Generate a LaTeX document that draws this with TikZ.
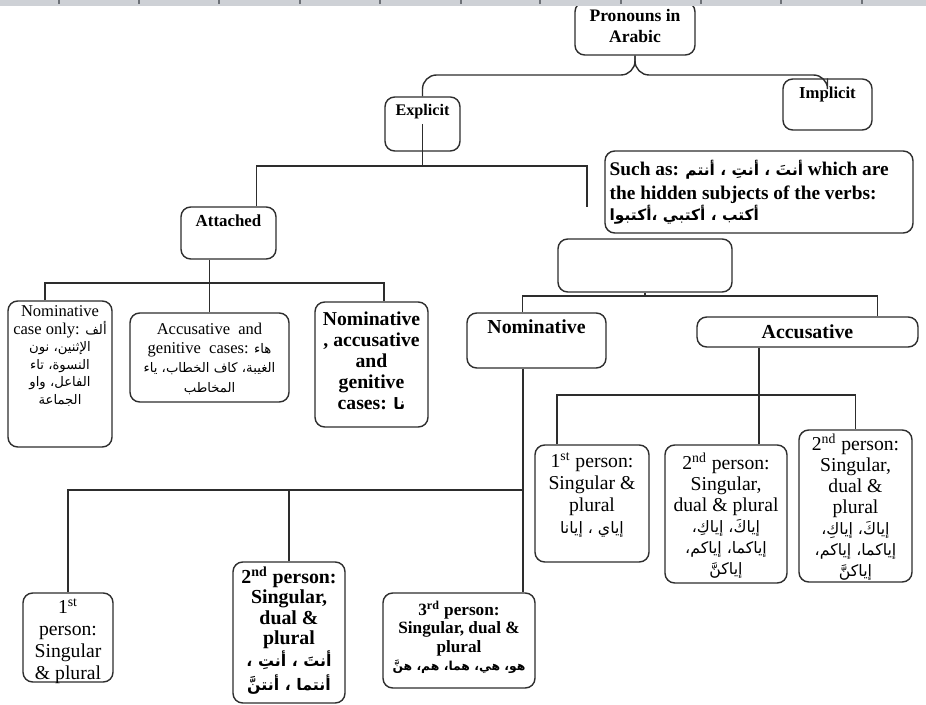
\documentclass[tikz,border=0pt]{standalone}
\usepackage{fontspec}
\setmainfont{Liberation Serif}
\newfontfamily\arabicfont[Script=Arabic,Scale=0.8]{DejaVu Sans}
\TeXXeTstate=1
\newcommand{\arb}[1]{{\arabicfont\beginR #1\endR}}
\usetikzlibrary{positioning}
\definecolor{ruler}{RGB}{206,209,214}
\definecolor{tick}{RGB}{110,114,120}
\definecolor{edge}{RGB}{45,45,45}
\tikzstyle{box}=[draw=edge, line width=0.8pt, rounded corners=5.5pt, inner sep=0pt]
\tikzset{link/.style={draw=edge, line width=0.8pt}}
\tikzset{brace/.style={link, rounded corners=8pt}}
\tikzset{lbl/.style={anchor=north, align=center, inner sep=0pt}}

\begin{document}
\begin{tikzpicture}[x=0.02cm,y=-0.02cm]
  \useasboundingbox (0,0) rectangle (926,705);

  \node[box, minimum width=2.4cm, minimum height=1.06cm] (Root) at (635,28.5) {};
  \node[box, minimum width=1.78cm, minimum height=1.02cm] (Impl) at (827.5,104.5) {};
  \node[box, minimum width=1.5cm, minimum height=1.08cm] (Expl) at (422.5,124) {};
  \node[box, minimum width=6.16cm, minimum height=1.64cm] (Hid) at (759,192) {};
  \node[box, minimum width=1.9cm, minimum height=1.04cm] (Att) at (228.5,233) {};
  \node[box, minimum width=3.48cm, minimum height=1.06cm] (Blank) at (645,265.5) {};
  \node[box, minimum width=2.78cm, minimum height=1.1cm] (Nom) at (536.5,340.5) {};
  \node[box, minimum width=4.42cm, minimum height=0.6cm] (Acc) at (807.5,332) {};

  \node[box, minimum width=2.08cm, minimum height=2.92cm] (Att1) at (60,374) {};
  \node[box, minimum width=3.18cm, minimum height=1.78cm] (Att2) at (209.5,357.5) {};
  \node[box, minimum width=2.26cm, minimum height=2.5cm] (Att3) at (371.5,364.5) {};

  \node[box, minimum width=2.28cm, minimum height=2.34cm] (Acc1) at (592,503.5) {};
  \node[box, minimum width=2.44cm, minimum height=2.76cm] (Acc2) at (726,514) {};
  \node[box, minimum width=2.26cm, minimum height=3.04cm] (Acc3) at (855.5,506) {};

  \node[box, minimum width=1.8cm, minimum height=1.78cm] (Nom1) at (68,637.5) {};
  \node[box, minimum width=2.24cm, minimum height=2.82cm] (Nom2) at (289,632.5) {};
  \node[box, minimum width=3.04cm, minimum height=1.9cm] (Nom3) at (459,640.5) {};

  %% Texts
  \node[lbl, below=0.16cm of Root.north, font=\bfseries\fontsize{10}{11.5}\selectfont] (RootT) {Pronouns in\\Arabic};
  \node[lbl, below=0.16cm of Impl.north, font=\bfseries\fontsize{9.5}{11}\selectfont] (ImplT) {Implicit};
  \node[lbl, below=0.16cm of Expl.north, font=\bfseries\fontsize{9.2}{11}\selectfont] (ExplT) {Explicit};
  \node[lbl, below=0.16cm of Att.north, font=\bfseries\fontsize{9.6}{11}\selectfont] (AttT) {Attached};
  \node[lbl, anchor=north west, align=left, font=\bfseries\fontsize{11}{14}\selectfont] (HidT) at ([shift={(5,9)}]Hid.north west)
    {Such as: \arb{أنتَ ، أنتِ ، أنتم} which are\\the hidden subjects of the verbs:\\[-2pt]{\fontsize{11}{11}\selectfont\arb{أكتب ، أكتبي ،أكتبوا}}};
  \node[lbl, below=0.14cm of Nom.north, font=\bfseries\fontsize{11.3}{13}\selectfont] (NomT) {Nominative};
  \node[lbl, below=0.16cm of Acc.north, font=\bfseries\fontsize{11.3}{13}\selectfont] (AccT) {Accusative};

  \node[lbl, below=0.1cm of Att1.north, font=\fontsize{9.4}{10}\selectfont] (Att1T)
    {Nominative\\case only: \arb{ألف}\\\arb{الإثنين، نون}\\\arb{النسوة، تاء}\\\arb{الفاعل، واو}\\\arb{الجماعة}};
  \node[lbl, below=0.2cm of Att2.north, font=\fontsize{9.4}{11}\selectfont] (Att2T)
    {Accusative \ and\\genitive \ cases: \arb{هاء}\\\arb{الغيبة، كاف الخطاب، ياء}\\\arb{المخاطب}};
  \node[lbl, below=0.2cm of Att3.north, font=\bfseries\fontsize{11.2}{12}\selectfont] (Att3T)
    {Nominative\\, accusative\\and\\genitive\\cases: \arb{نا}};

  \node[lbl, below=0.16cm of Acc1.north, font=\fontsize{11.2}{12.5}\selectfont] (Acc1T)
    {1\textsuperscript{st} person:\\Singular \&\\plural\\\arb{إياي ، إيانا}};
  \node[lbl, below=0.16cm of Acc2.north, font=\fontsize{11.2}{12}\selectfont] (Acc2T)
    {2\textsuperscript{nd} person:\\Singular,\\dual \& plural\\\arb{إياكَ، إياكِ،}\\\arb{إياكما، إياكم،}\\\arb{إياكنَّ}};
  \node[lbl, below=0.08cm of Acc3.north, font=\fontsize{11.2}{12}\selectfont] (Acc3T)
    {2\textsuperscript{nd} person:\\Singular,\\dual \&\\plural\\\arb{إياكَ، إياكِ،}\\\arb{إياكما، إياكم،}\\\arb{إياكنَّ}};

  \node[lbl, below=0.12cm of Nom1.north, font=\fontsize{11.2}{12.5}\selectfont] (Nom1T)
    {1\textsuperscript{st}\\person:\\Singular\\\& plural};
  \node[lbl, below=0.1cm of Nom2.north, font=\bfseries\fontsize{11.3}{11.6}\selectfont] (Nom2T)
    {2\textsuperscript{nd} person:\\Singular,\\dual \&\\plural\\[1pt]\arb{أنتَ ، أنتِ ،}\\[2pt]\arb{أنتما ، أنتنَّ}};
  \node[lbl, below=0.16cm of Nom3.north, font=\bfseries\fontsize{9.8}{10.5}\selectfont] (Nom3T)
    {3\textsuperscript{rd} person:\\Singular, dual \&\\plural\\{\fontsize{8.8}{11}\selectfont\arb{هو، هي، هما، هم، هنَّ}}};

  %% Connectors
  \coordinate (Brc) at (0,75);
  \coordinate (BusE) at (0,166);
  \coordinate (BusA) at (0,283);
  \coordinate (BusB) at (0,296);
  \coordinate (BusC) at (0,395);
  \coordinate (BusN) at (0,490);
  \coordinate (Loose) at (587,207);
  \coordinate (Att3In) at ([xshift=0.25cm]Att3.north);
  \coordinate (AccIn) at ([xshift=1.4cm]Acc.north);
  \coordinate (Acc2In) at ([xshift=0.66cm]Acc2.north);
  \coordinate (Nom3In) at ([xshift=1.28cm]Nom3.north);

  \draw[brace] (Root.south) -- (Root.south |- Brc) -| (Expl.north);
  \draw[brace] (Root.south) -- (Root.south |- Brc) -| (Impl.north);

  \draw[link] (Expl.center) -- (Expl.center |- BusE);
  \draw[link] ([xshift=-0.4cm]Att.north east) |- (Loose |- BusE) -- (Loose);

  \draw[link] (Att.south -| Att2.north) -- (Att2.north);
  \draw[link] ([xshift=-0.3cm]Att1.north) |- (Att3In |- BusA) -- (Att3In);

  \draw[link] (Blank.south) -- (Blank.south |- BusB);
  \draw[link] ([xshift=-0.28cm]Nom.north) |- (AccIn |- BusB) -- (AccIn);

  \draw[link] (Acc2In |- Acc.south) -- (Acc2In);
  \draw[link] ([xshift=-0.7cm]Acc1.north) |- (Acc3.north |- BusC) -- (Acc3.north);

  \draw[link] (Nom3In |- Nom.south) -- (Nom3In);
  \draw[link] (Nom1.north) |- (Nom3In |- BusN);
  \draw[link] (Nom2.north) -- (Nom2.north |- BusN);

  %% Ruler strip
  \fill[ruler] (0,0) rectangle (926,6);
  \draw[tick, line width=0.6pt] (59,0) -- (59,4) (139,0) -- (139,4) (219,0) -- (219,4) (300,0) -- (300,4)
    (380,0) -- (380,4) (461,0) -- (461,4) (540,0) -- (540,4) (621,0) -- (621,4)
    (701,0) -- (701,4) (781,0) -- (781,4) (862,0) -- (862,4);
\end{tikzpicture}
\end{document}
